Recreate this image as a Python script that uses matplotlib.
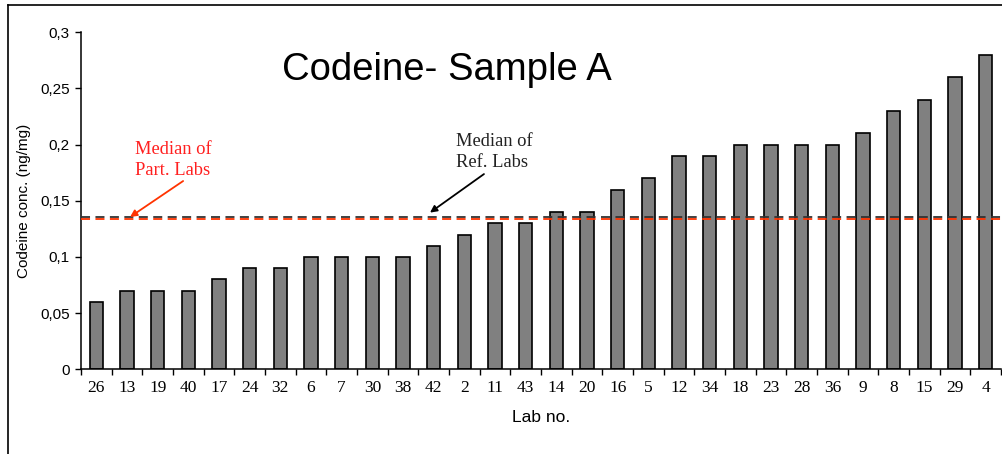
import matplotlib
matplotlib.use('Agg')
import matplotlib.pyplot as plt
from matplotlib.lines import Line2D
from matplotlib.ticker import FuncFormatter

# Data
labs = ['26', '13', '19', '40', '17', '24', '32', '6', '7', '30', '38', '42', '2', '11', '43',
        '14', '20', '16', '5', '12', '34', '18', '23', '28', '36', '9', '8', '15', '29', '4']
conc = [0.06, 0.07, 0.07, 0.07, 0.08, 0.09, 0.09, 0.10, 0.10, 0.10, 0.10, 0.11, 0.12, 0.13, 0.13,
        0.14, 0.14, 0.16, 0.17, 0.19, 0.19, 0.20, 0.20, 0.20, 0.20, 0.21, 0.23, 0.24, 0.26, 0.28]
median_ref = 0.136
median_part = 0.1335

fig = plt.figure(figsize=(10.03, 4.54), dpi=100)
ax = fig.add_axes([81 / 1003, 1 - 369.3 / 454, 920 / 1003, 337 / 454])

x = list(range(len(labs)))
ax.bar(x, conc, width=0.43, color='#808080', edgecolor='black', linewidth=1.2, zorder=2)
ax.axhline(median_ref, color='#333333', linestyle=(0, (5, 3)), linewidth=1.3, zorder=3)
ax.axhline(median_part, color='#ff3300', linestyle=(0, (5, 3)), linewidth=1.3, zorder=3)

ax.set_xlim(-0.5, len(labs) - 0.5)
ax.set_ylim(0, 0.3)
ax.set_yticks([0, 0.05, 0.1, 0.15, 0.2, 0.25, 0.3])
ax.yaxis.set_major_formatter(FuncFormatter(lambda v, p: ('%g' % round(v, 2)).replace('.', ',')))
ax.tick_params(axis='y', direction='out', length=4, width=1, labelsize=11, pad=4)
for lab in ax.get_yticklabels():
    lab.set_family('Liberation Sans')

# x ticks sit between categories, labels at the centres
ax.set_xticks([i - 0.5 for i in range(len(labs) + 1)])
ax.set_xticklabels([])
ax.set_xticks(x, minor=True)
ax.set_xticklabels(labs, minor=True, family='Liberation Serif', fontsize=12.5)
ax.tick_params(axis='x', which='major', direction='out', length=4, width=1)
ax.tick_params(axis='x', which='minor', length=0, pad=8)

for side in ['top', 'right']:
    ax.spines[side].set_visible(False)
ax.spines['left'].set_linewidth(1.1)
ax.spines['bottom'].set_linewidth(1.1)

ax.set_ylabel('Codeine conc. (ng/mg)', family='Liberation Sans', fontsize=11, labelpad=7)
ax.set_xlabel('Lab no.', family='Liberation Sans', fontsize=12.5, labelpad=10)

fig.text(447 / 1003, 1 - 70 / 454, 'Codeine- Sample A', family='Liberation Sans', fontsize=27.5,
         ha='center', va='center')

# median annotations
ax.text(1.26, 0.2035, 'Median of\nPart. Labs', color='#ff2020', family='Liberation Serif',
        fontsize=13.3, ha='left', va='top', linespacing=1.3)
ax.annotate('', xy=(1.10, 0.1356), xytext=(2.83, 0.1676),
            arrowprops=dict(arrowstyle='-|>', color='#ff3300', lw=1.3, mutation_scale=10,
                            shrinkA=0, shrinkB=0))
ax.text(11.73, 0.2105, 'Median of\nRef. Labs', color='#222222', family='Liberation Serif',
        fontsize=13.3, ha='left', va='top', linespacing=1.3)
ax.annotate('', xy=(10.88, 0.1395), xytext=(12.64, 0.1738),
            arrowprops=dict(arrowstyle='-|>', color='black', lw=1.3, mutation_scale=10,
                            shrinkA=0, shrinkB=0))

# outer chart frame (only left and top edges visible in the crop)
fig.add_artist(Line2D([8.5 / 1003, 8.5 / 1003], [0, 1 - 5 / 454], color='black', lw=1.2))
fig.add_artist(Line2D([8.5 / 1003, 1], [1 - 5 / 454, 1 - 5 / 454], color='black', lw=1.2))

fig.savefig('out.png', dpi=100)
